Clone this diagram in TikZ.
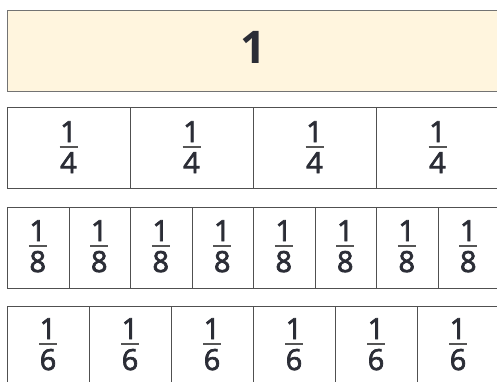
\documentclass[tikz,border=0pt]{standalone}
\usepackage{fontspec}
\setmainfont{Open Sans}
\newfontfamily\digitfont[FakeBold=2.5]{Open Sans}
\definecolor{cream}{HTML}{FFF5DE}
\definecolor{edgegray}{HTML}{505050}
\definecolor{inkgray}{HTML}{2B2D36}
\definecolor{bargray}{HTML}{555555}
\begin{document}
\begin{tikzpicture}[x=1pt, y=-1pt,
    cell/.style={draw=edgegray, line width=1.4pt, minimum height=81pt, inner sep=0pt, anchor=north west},
    digit/.style={font=\digitfont\fontsize{29}{29}\selectfont, text=inkgray, inner sep=0pt, anchor=base},
    fracbar/.style={draw=bargray, line width=1.7pt}]
  \useasboundingbox (0,0) rectangle (497,381);

  % the whole bar
  \node[cell, fill=cream, draw=gray!90!black, minimum width=492pt] (whole) at (7,10) {};
  \node[digit, font=\fontsize{45}{45}\selectfont\bfseries] (one) at (253,63) {1};

  % rows of equal parts: parts / top edge / fraction bar height
  \foreach \n/\rowtop/\ybar in {4/107/147, 8/207/246, 6/306/344} {
    \pgfmathsetmacro\w{492/\n}
    \foreach \i in {1,...,\n} {
      \pgfmathsetmacro\xc{7+(\i-0.5)*\w}
      \node[cell, minimum width=\w pt] (c\n-\i) at ({7+(\i-1)*\w},\rowtop) {};
      \node[digit] (num\n-\i) at (\xc,\ybar-5) {1};
      \node[digit] (den\n-\i) at (\xc,\ybar+26) {\n};
      \coordinate (bl\n-\i) at (\xc-9,\ybar);
      \coordinate (br\n-\i) at (\xc+9,\ybar);
      \draw[fracbar] (bl\n-\i) -- (br\n-\i);
    }
  }
\end{tikzpicture}
\end{document}
